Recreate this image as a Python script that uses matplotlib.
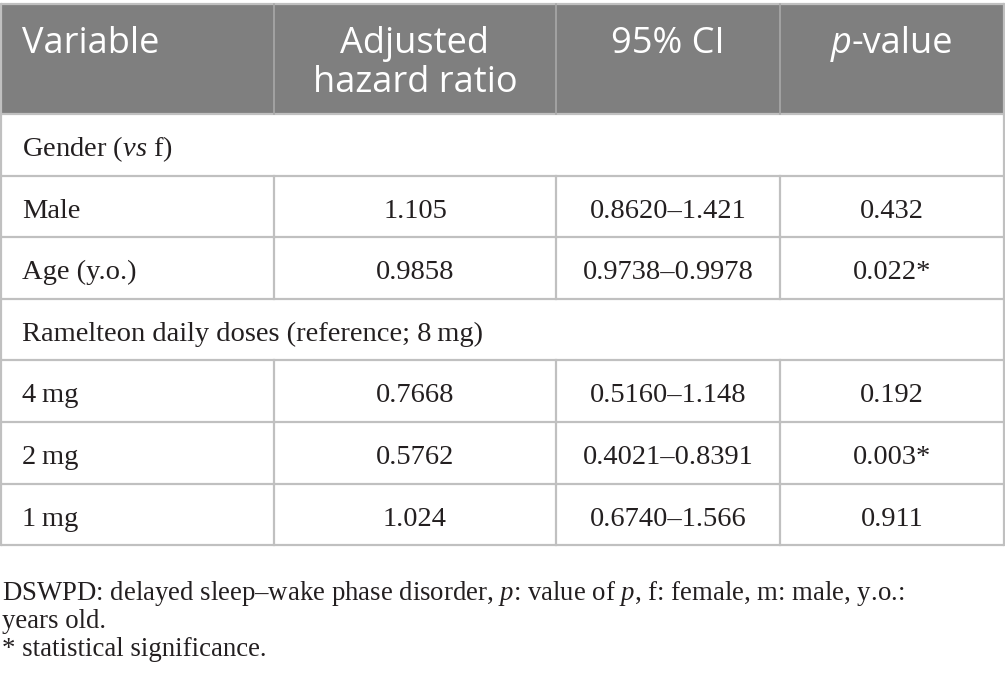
import matplotlib.pyplot as plt
from matplotlib.patches import Rectangle

# table content
headers = [["Variable"], ["Adjusted", "hazard ratio"], ["95% CI"], ["p", "-value"]]
row_labels = ["Gender ($\\mathit{vs}$ f)", "Male", "Age (y.o.)",
              "Ramelteon daily doses (reference; 8\u2009mg)", "4\u2009mg", "2\u2009mg", "1\u2009mg"]
hazard_ratio = ["", "1.105", "0.9858", "", "0.7668", "0.5762", "1.024"]
ci_95 = ["", "0.8620\u20131.421", "0.9738\u20130.9978", "", "0.5160\u20131.148", "0.4021\u20130.8391", "0.6740\u20131.566"]
p_value = ["", "0.432", "0.022*", "", "0.192", "0.003*", "0.911"]
group_rows = [0, 3]
footnotes = [
    "DSWPD: delayed sleep\u2013wake phase disorder, $\\mathit{p}$: value of $\\mathit{p}$, f: female, m: male, y.o.:",
    "years old.",
    "* statistical significance.",
]

plt.rcParams["mathtext.fontset"] = "custom"
plt.rcParams["mathtext.it"] = "Liberation Serif:italic"
plt.rcParams["mathtext.rm"] = "Liberation Serif"

W, H = 1005, 700
fig = plt.figure(figsize=(W / 100, H / 100), dpi=100)
ax = fig.add_axes([0, 0, 1, 1])
ax.set_xlim(0, W)
ax.set_ylim(H, 0)
ax.axis("off")

col_x = [1, 274, 556, 780, 1004]
head_top, head_bot = 4, 114
row_h = 61.6
n = len(row_labels)
row_y = [head_bot + i * row_h for i in range(n + 1)]
grid = "#c0c0c0"

ax.add_patch(Rectangle((col_x[0], head_top), col_x[-1] - col_x[0], head_bot - head_top,
                       facecolor="#7f7f7f", edgecolor="none"))

# horizontal lines
for y in [head_top] + row_y:
    ax.plot([col_x[0], col_x[-1]], [y, y], color=grid, lw=1.6, solid_capstyle="butt")
# vertical lines
for x in [col_x[0], col_x[-1]]:
    ax.plot([x, x], [head_top, row_y[-1]], color=grid, lw=1.6)
for x in col_x[1:-1]:
    ax.plot([x, x], [head_top, head_bot], color="#a8a8a8", lw=1.2)
    for i in range(n):
        if i not in group_rows:
            ax.plot([x, x], [row_y[i], row_y[i + 1]], color=grid, lw=1.6)

# header text
hfont = dict(family="Open Sans", fontsize=26, color="white", va="baseline")
base = [53, 92]
ax.text(22, base[0], headers[0][0], ha="left", **hfont)
for j in (1, 2):
    cx = (col_x[j] + col_x[j + 1]) / 2
    for k, line in enumerate(headers[j]):
        ax.text(cx, base[k], line, ha="center", **hfont)

# "p-value": italic p followed by upright rest, centred together
cx = (col_x[3] + col_x[4]) / 2
r = fig.canvas.get_renderer()
t1 = ax.text(0, base[0], headers[3][0], ha="left", style="italic", **hfont)
t2 = ax.text(0, base[0], headers[3][1], ha="left", **hfont)
w1 = t1.get_window_extent(r).width
w2 = t2.get_window_extent(r).width
x0 = cx - (w1 + w2) / 2
t1.set_x(x0)
t2.set_x(x0 + w1)

# body text
bfont = dict(family="Liberation Serif", fontsize=20.5, color="#231f20", va="baseline")
for i in range(n):
    by = row_y[i] + 42
    ax.text(22, by, row_labels[i], ha="left", **bfont)
    for j, col in enumerate([hazard_ratio, ci_95, p_value], start=1):
        cx = (col_x[j] + col_x[j + 1]) / 2
        ax.text(cx, by, col[i], ha="center", **bfont)

ffont = dict(bfont, fontsize=19.3)
for k, line in enumerate(footnotes):
    ax.text(2, 600 + k * 28, line, ha="left", **ffont)

fig.savefig("out.png", dpi=100)
